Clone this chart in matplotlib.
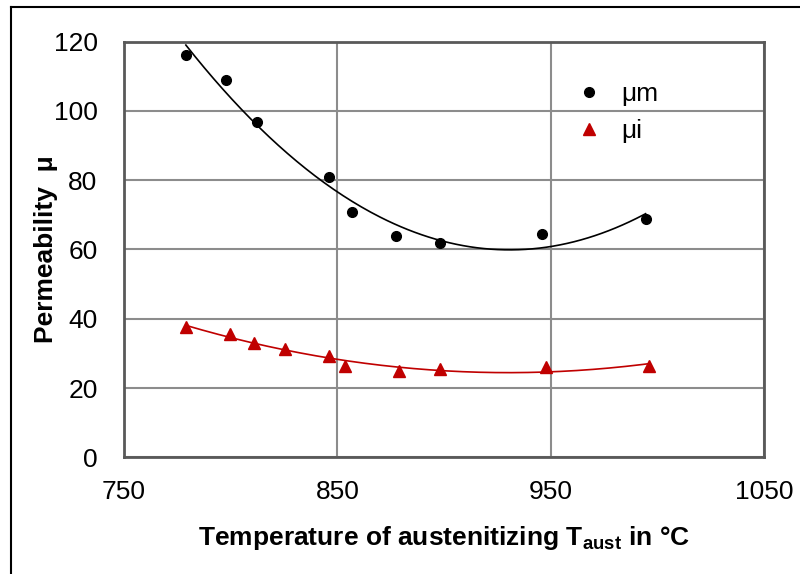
import numpy as np
import matplotlib
matplotlib.use("Agg")
import matplotlib.pyplot as plt
from matplotlib.lines import Line2D

plt.rcParams['font.family'] = ['Liberation Sans', 'DejaVu Sans']

# Data
t_m = [779, 798, 812.5, 846, 857, 877.5, 898, 946, 994.5]
mu_m = [116.0, 108.9, 96.7, 81.0, 70.9, 63.8, 61.8, 64.5, 68.9]
t_i = [779, 799.5, 811, 825.5, 846, 853.5, 879, 898, 948, 996]
mu_i = [37.7, 35.6, 32.9, 31.3, 29.1, 26.3, 25.0, 25.6, 26.1, 26.3]

x_ticks = [750, 850, 950, 1050]
y_ticks = [0, 20, 40, 60, 80, 100, 120]

fig = plt.figure(figsize=(8, 5.74), dpi=100)
ax = fig.add_axes([0.155, 0.2033, 0.80, 0.7244])

red = '#C00000'
# Trendlines (2nd order polynomial)
cm = np.polyfit(t_m, mu_m, 2)
xm = np.linspace(min(t_m), max(t_m), 200)
ax.plot(xm, np.polyval(cm, xm), color='black', lw=1.2, zorder=3)
ci = np.polyfit(t_i, mu_i, 2)
xi = np.linspace(min(t_i), max(t_i), 200)
ax.plot(xi, np.polyval(ci, xi), color=red, lw=1.2, zorder=3)

ax.plot(t_m, mu_m, 'o', color='black', ms=7, ls='none', label='μm', zorder=4)
ax.plot(t_i, mu_i, '^', color=red, ms=8.5, ls='none', label='μi', zorder=4)

ax.set_xlim(750, 1050)
ax.set_ylim(0, 120)
ax.set_xticks(x_ticks)
ax.set_yticks(y_ticks)
ax.tick_params(length=0, labelsize=19, pad=16)
ax.tick_params(axis='y', pad=19)
ax.grid(True, color='#8c8c8c', lw=1.5)
ax.set_axisbelow(True)
for s in ax.spines.values():
    s.set_color('#595959')
    s.set_linewidth(2)

ax.set_xlabel('Temperature of austenitizing T$_{\\mathregular{aust}}$ in °C',
              fontsize=19, fontweight='bold', labelpad=15)
ax.set_ylabel('Permeability  μ', fontsize=19, fontweight='bold', labelpad=-3)

leg = ax.legend(loc='upper left', bbox_to_anchor=(0.665, 0.96), frameon=False,
                fontsize=19, handletextpad=0.6, labelspacing=0.5,
                handlelength=1.2)

# Outer frame
W, H = 800, 574
fig.add_artist(Line2D([10.5 / W, 10.5 / W], [0, 1 - 6.7 / H], color='black', lw=1.5, transform=fig.transFigure))
fig.add_artist(Line2D([10.5 / W, 1], [1 - 6.7 / H, 1 - 6.7 / H], color='black', lw=1.5, transform=fig.transFigure))

fig.savefig('out.png', dpi=100)
